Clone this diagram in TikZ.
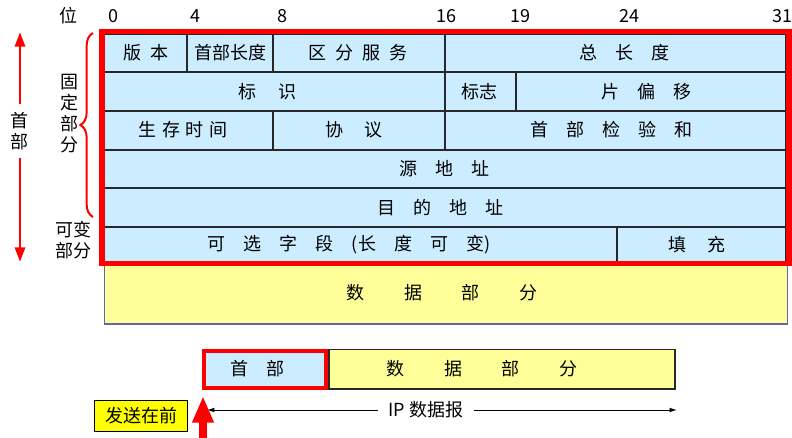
\documentclass[tikz,border=0pt]{standalone}
\usepackage{fontspec}
\setmainfont{Noto Sans CJK SC}
\usetikzlibrary{arrows.meta,decorations.pathreplacing}
\definecolor{hdrblue}{RGB}{204,236,255}
\definecolor{datayel}{RGB}{255,255,153}
\definecolor{sendyel}{RGB}{255,255,0}
\definecolor{framered}{RGB}{255,0,0}
\definecolor{databord}{RGB}{100,100,170}
\definecolor{cellgray}{RGB}{40,40,40}
\tikzset{every picture/.style={line width=0.75pt}}
\tikzset{
  txt/.style={inner sep=0pt, font=\fontsize{13.5}{15.75}\selectfont},
  cellline/.style={draw=cellgray, line width=0.9},
  sidearrow/.style={draw=framered, line width=2.2, -{Triangle[width=7.5pt,length=11pt]}},
  dimarrow/.style={draw=black, line width=0.75, -{Latex[width=3.5pt,length=5.5pt]}},
  bigarrow/.style={draw=framered, line width=6, -{Triangle[width=15pt,length=20pt]}},
}

\begin{document}
\begin{tikzpicture}[x=0.75pt,y=0.75pt,yscale=-1,xscale=1]
\useasboundingbox (0,0) rectangle (792,438);

%Shape: Rectangle [id:data upper]
\draw [draw=databord, fill=datayel, line width=1.2] (104.5,262) rectangle (787.5,324);
%Shape: Rectangle [id:header cells]
\draw [cellline, fill=hdrblue] (104,34) rectangle (786,262);
%Straight Lines [id:row borders]
\draw [cellline] (104,72) -- (786,72);
\draw [cellline] (104,111) -- (786,111);
\draw [cellline] (104,150) -- (786,150);
\draw [cellline] (104,188) -- (786,188);
\draw [cellline] (104,227) -- (786,227);
%Straight Lines [id:column borders]
\draw [cellline] (187,34) -- (187,72);
\draw [cellline] (273,34) -- (273,72);
\draw [cellline] (445,34) -- (445,150);
\draw [cellline] (516,72) -- (516,111);
\draw [cellline] (273,111) -- (273,150);
\draw [cellline] (617,227) -- (617,262);
%Shape: Rectangle [id:red frame]
\draw [draw=framered, line width=4.2] (102,31.5) rectangle (789,263.5);

% Text Node: bit positions
\node [txt] (bitlbl) at (68,16) {位};
\node [txt] (b0) at (113,16) {0};
\node [txt] (b4) at (195,16) {4};
\node [txt] (b8) at (282,16) {8};
\node [txt] (b16) at (446,16) {16};
\node [txt] (b19) at (520,16) {19};
\node [txt] (b24) at (629,16) {24};
\node [txt] (b31) at (782,16) {31};

% Text Node: header fields
\node [txt] (version) at (145.5,53) {版\enspace 本};
\node [txt] (ihl) at (230,53) {首部长度};
\node [txt] (tos) at (358,53) {区\enspace 分\enspace 服\enspace 务};
\node [txt] (totlen) at (624,53) {总\quad 长\quad 度};
\node [txt] (ident) at (267.5,92) {标\hspace{1.2em}识};
\node [txt] (flags) at (479,92) {标志};
\node [txt] (fragoff) at (646,92) {片\quad 偏\quad 移};
\node [txt] (ttl) at (183,130) {生\hspace{.3em}存\hspace{.3em}时\hspace{.3em}间};
\node [txt] (proto) at (354,130) {协\hspace{1.2em}议};
\node [txt] (chksum) at (611,130) {首\quad 部\quad 检\quad 验\quad 和};
\node [txt] (srcaddr) at (444,169) {源\quad 地\quad 址};
\node [txt] (dstaddr) at (440,208) {目\quad 的\quad 地\quad 址};
\node [txt] (options) at (349,245) {可\quad 选\quad 字\quad 段\quad (长\quad 度\quad 可\quad 变)};
\node [txt] (padding) at (697,245) {填\hspace{1.2em}充};
\node [txt] (datatxt) at (442,293) {数\hspace{2.2em}据\hspace{2.2em}部\hspace{2.2em}分};

% Text Node: side labels
\node [txt, align=center] (fixlbl) at (69,113.5) {固\\定\\部\\分};
\node [txt, align=center] (varlbl) at (73.5,240) {可变\\部分};
\node [txt, align=center, inner ysep=6pt] (hdrside) at (20,131) {首\\部};
\coordinate (hdrtop) at (20,32);
\coordinate (hdrbot) at (20,262);
\draw [sidearrow] (hdrside.north) -- (hdrtop);
\draw [sidearrow] (hdrside.south) -- (hdrbot);
%Shape: Brace [id:fixed part]
\draw [draw=framered, line width=1.5, decorate, decoration={brace, amplitude=9.5pt}] (93,217) -- (93,33);

%Shape: Rectangle [id:datagram data]
\draw [draw=cellgray, fill=datayel, line width=1.2] (329,349.5) rectangle (675,389);
\node [txt] (dgdata) at (482,369) {数\hspace{2.2em}据\hspace{2.2em}部\hspace{2.2em}分};
%Shape: Rectangle [id:datagram header]
\node [draw=framered, fill=hdrblue, line width=2.8, minimum width=92pt, minimum height=27.5pt, inner sep=0pt] (dghdr) at (265,369.5) {};
\node [txt] (dghdrtxt) at (257.5,369) {首\quad 部};

% Text Node: datagram length
\node [txt, fill=white, inner xsep=7.5pt, inner ysep=2pt] (iplbl) at (426,410) {IP 数据报};
\coordinate (ipL) at (207,410);
\coordinate (ipR) at (677,410);
\draw [dimarrow] (iplbl) -- (ipL);
\draw [dimarrow] (iplbl) -- (ipR);

% Text Node: sent first
\node [txt, draw=black, fill=sendyel, line width=1, minimum width=70pt, minimum height=23.5pt] (sendlbl) at (141,416) {发送在前};
\coordinate (sendbot) at (203,442);
\coordinate (sendtip) at (203,396);
\draw [bigarrow] (sendbot) -- (sendtip);

\end{tikzpicture}
\end{document}
